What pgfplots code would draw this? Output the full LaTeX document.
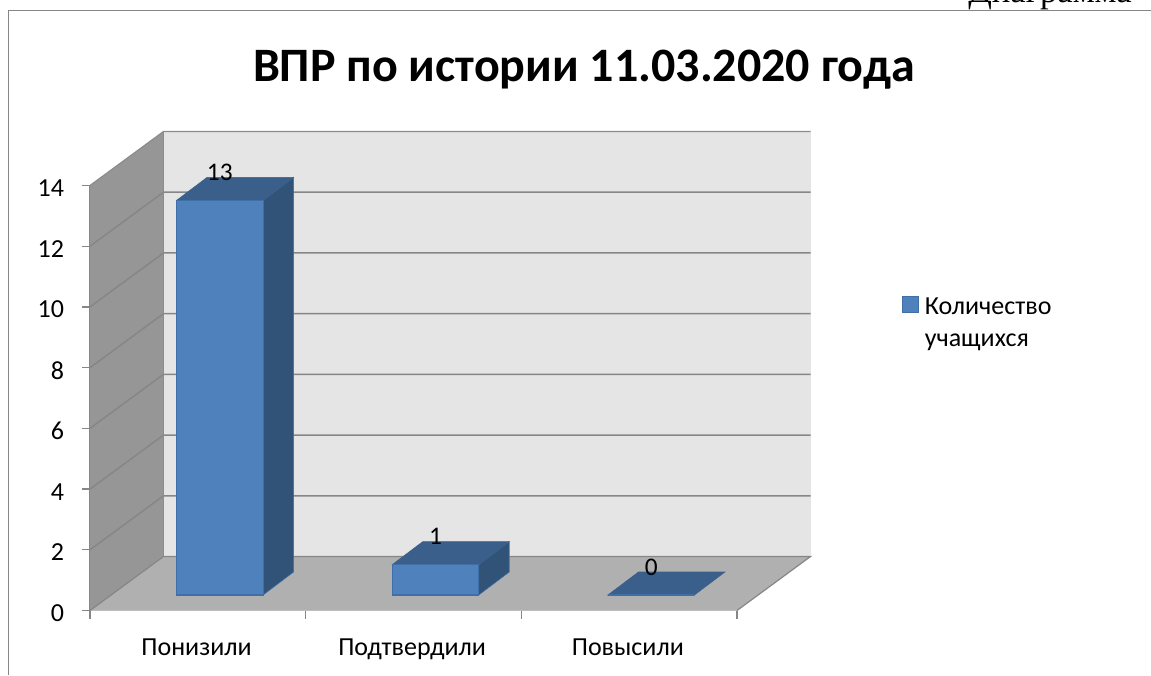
\documentclass[border=0pt]{standalone}
\usepackage{fontspec}
\setmainfont{Carlito}
\newfontfamily\timesfont{Liberation Serif}
\usepackage{pgfplots}
\pgfplotsset{compat=1.18}

% values
\pgfplotstableread{
x   n
0.5 13
1.5 1
2.5 0
}\bardata

\definecolor{barfront}{HTML}{4F81BD}
\definecolor{baredge}{HTML}{3F6FA6}
\definecolor{bartop}{HTML}{3A5F8B}
\definecolor{barside}{HTML}{325378}
\definecolor{linegray}{HTML}{868686}

\pgfplotsset{
  chartaxis/.style={
    scale only axis, width=485.25pt, height=318.75pt,
    xmin=0, xmax=3, ymin=0, ymax=14, clip=false,
    /pgf/number format/assume math mode=true,
  },
}

\begin{document}
\begin{tikzpicture}[x=1pt,y=1pt]
\path[use as bounding box] (0,0) rectangle (863.25,506.25);
\node[anchor=base west,font=\timesfont\fontsize{26}{26}\selectfont,inner sep=0pt] at (726,504) {Диаграмма 4};
\fill[white] (6.4,0) rectangle (863.25,498.4);
\draw[linegray,line width=0.9pt] (6.4,0) -- (6.4,498.4) -- (863.25,498.4);
\node[font=\fontsize{36}{36}\selectfont\bfseries] at (438,454) {ВПР по истории 11.03.2020 года};

% front plane: walls, floor, gridlines and ticks
\begin{axis}[chartaxis, at={(67.5pt,48.375pt)}, anchor=south west,
  axis lines*=left, axis line style={-, draw=linegray, line width=0.9pt},
  x axis line style={draw=black!15},
  tick style={draw=linegray, line width=0.9pt},
  xtick={0,1,2,3}, x tick label as interval,
  xticklabels={Понизили,Подтвердили,Повысили},
  ytick={0,2,...,14},
  major tick length=6pt, tick align=outside,
  tick label style={font=\fontsize{19.5}{19.5}\selectfont},
  xticklabel style={yshift=-12pt, xshift=-1pt},
  yticklabel style={xshift=-10pt, yshift=-2pt},
]
\addplot[fill=black!10, draw=none] coordinates {(0.3408,1.779) (3.3408,1.779) (3.3408,15.779) (0.3408,15.779)} -- cycle;
\addplot[fill=black!41, draw=none] coordinates {(0,0) (0.3408,1.779) (0.3408,15.779) (0,14)} -- cycle;
\addplot[fill=black!31, draw=none] coordinates {(0,0) (3,0) (3.3408,1.779) (0.3408,1.779)} -- cycle;
% gridlines, back wall and side wall
\addplot[linegray, line width=1.1pt, unbounded coords=jump] coordinates {
  (0,2) (0.3408,3.779) (3.3408,3.779) (nan,nan)
  (0,4) (0.3408,5.779) (3.3408,5.779) (nan,nan)
  (0,6) (0.3408,7.779) (3.3408,7.779) (nan,nan)
  (0,8) (0.3408,9.779) (3.3408,9.779) (nan,nan)
  (0,10) (0.3408,11.779) (3.3408,11.779) (nan,nan)
  (0,12) (0.3408,13.779) (3.3408,13.779)
};
\addplot[black!45, line width=0.9pt] coordinates {(0,14) (0.3408,15.779) (3.3408,15.779)};
\addplot[black!45, line width=0.9pt] coordinates {(0.3408,15.779) (0.3408,1.779)};
\addplot[linegray, line width=0.9pt] coordinates {(0,0) (0.3408,1.779) (3.3408,1.779) (3,0)};
\end{axis}

% plane of the bars, 22 px to the right and 15.5 px up
\begin{axis}[chartaxis, at={(84pt,60pt)}, anchor=south west, hide axis,
  legend style={at={(592pt,225pt)}, anchor=north west, draw=none, fill=none,
    cells={align=left, anchor=west}, font=\fontsize{19.5}{24}\selectfont,
    inner sep=0pt},
]
\addplot[fill=barside, draw=baredge, forget plot] coordinates {(0.7005,0) (0.7005,13) (0.8419,13.7576) (0.8419,0.7576)} -- cycle;
\addplot[fill=bartop, draw=bartop, forget plot] coordinates {(0.2995,13) (0.7005,13) (0.8419,13.7576) (0.4409,13.7576)} -- cycle;
\addplot[fill=barside, draw=baredge, forget plot] coordinates {(1.7005,0) (1.7005,1) (1.8419,1.7576) (1.8419,0.7576)} -- cycle;
\addplot[fill=bartop, draw=bartop, forget plot] coordinates {(1.2995,1) (1.7005,1) (1.8419,1.7576) (1.4409,1.7576)} -- cycle;
\addplot[fill=bartop, draw=bartop, forget plot] coordinates {(2.2995,0) (2.7005,0) (2.8419,0.7576) (2.4409,0.7576)} -- cycle;
\addplot[ybar, bar width=65pt, fill=barfront, draw=baredge, line width=0.8pt,
  nodes near coords,
  every node near coord/.append style={anchor=center, yshift=21pt, text=black, font=\fontsize{19}{19}\selectfont},
  legend image code/.code={\draw[fill=barfront, draw=baredge, line width=0.8pt] (0pt,7.75pt) rectangle (12pt,19.75pt); \path[draw=none,fill=none] (0pt,7.75pt) -- (15pt,7.75pt);},
] table[x=x, y=n] {\bardata};
\addlegendentry{Количество\\учащихся}
\end{axis}
\end{tikzpicture}
\end{document}
